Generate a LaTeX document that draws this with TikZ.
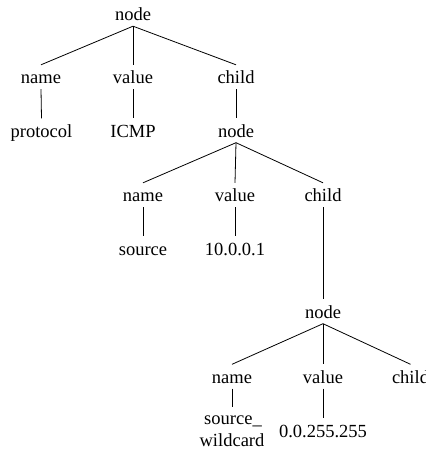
\documentclass[tikz,border=0pt]{standalone}
\usepackage{fontspec}
\setmainfont{Liberation Serif}
\begin{document}
\begin{tikzpicture}[x=1bp,y=-1bp,
  lbl/.style={anchor=base,inner sep=0pt,text height=19bp,text depth=5bp,
    font=\fontsize{18.5bp}{22bp}\selectfont},
  edge/.style={draw=black,line width=0.8bp}]
\useasboundingbox (0,0) rectangle (425,449);
% level 1
\node[lbl] (n1) at (133,21) {node};
% level 2
\node[lbl] (n1name) at (41,84) {name};
\node[lbl] (n1value) at (133,84) {value};
\node[lbl] (n1child) at (236,84) {child};
% level 3
\node[lbl] (proto) at (41.5,137.5) {protocol};
\node[lbl] (icmp) at (133,137.5) {ICMP};
\node[lbl] (n2) at (236,137.5) {node};
% level 4
\node[lbl] (n2name) at (143,202) {name};
\node[lbl] (n2value) at (235,202) {value};
\node[lbl] (n2child) at (323,202) {child};
% level 5
\node[lbl] (src) at (143,255.5) {source};
\node[lbl] (ip) at (235,255.5) {10.0.0.1};
\node[lbl] (n3) at (323,318.5) {node};
% level 6
\node[lbl] (n3name) at (232,383.5) {name};
\node[lbl] (n3value) at (323,383.5) {value};
\node[lbl] (n3child) at (410.5,383.5) {child};
% level 7
\node[lbl,text height=17bp] (wild) at (233,424) {source\_};
\node[lbl] (wild2) at (232,446) {wildcard};
\node[lbl] (mask) at (323,437) {0.0.255.255};
% edges
\path[edge] (n1.south) -- (n1name.north);
\path[edge] (n1.south) -- (n1value.north);
\path[edge] (n1.south) -- (n1child.north);
\path[edge] (n1name.south) -- (proto.north);
\path[edge] (n1value.south) -- (icmp.north);
\path[edge] (n1child.south) -- (n2.north);
\path[edge] (n2.south) -- (n2name.north);
\path[edge] (n2.south) -- (n2value.north);
\path[edge] (n2.south) -- (n2child.north);
\path[edge] (n2name.south) -- (src.north);
\path[edge] (n2value.south) -- (ip.north);
\path[edge] (n2child.south) -- (n3.north);
\path[edge] (n3.south) -- (n3name.north);
\path[edge] (n3.south) -- (n3value.north);
\path[edge] (n3.south) -- (n3child.north);
\path[edge] (n3name.south) -- (wild.north-|n3name.south);
\path[edge] (n3value.south) -- (mask.north);
\end{tikzpicture}
\end{document}
